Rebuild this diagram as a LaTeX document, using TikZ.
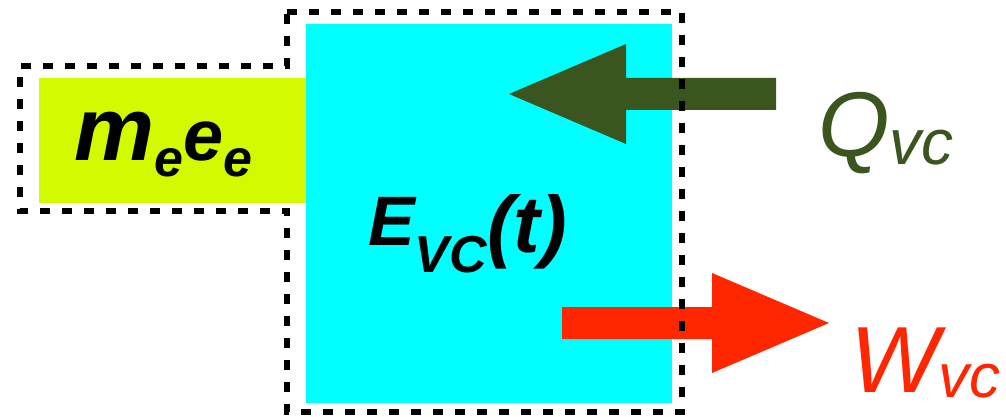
\documentclass[tikz,border=0pt]{standalone}
\usepackage{fontspec}
\setmainfont{Liberation Sans}
\definecolor{massyellow}{RGB}{212,250,0}
\definecolor{cvcyan}{RGB}{0,255,255}
\definecolor{heatgreen}{RGB}{58,86,30}
\definecolor{workred}{RGB}{255,38,0}
\begin{document}
\begin{tikzpicture}[x=1pt, y=-1pt,
    boundary/.style={line width=6pt, dash pattern=on 10pt off 12pt, line join=miter},
    lbl/.style={anchor=base west, inner sep=0pt}]
    \def\fs#1{\fontsize{#1}{#1}\selectfont}

    \useasboundingbox (0,0) rectangle (1006,417);

    % Mass entering: yellow block on the left
    \fill[massyellow] (39,78) rectangle (306,203);
    % Control volume: cyan block
    \fill[cvcyan] (306,24) rectangle (672,403);

    % Heat arrow Q, pointing into the control volume
    \coordinate (Q1) at (776,78);
    \coordinate (Q2) at (626,78);
    \coordinate (Q3) at (626,44);
    \coordinate (Q4) at (509,94);
    \coordinate (Q5) at (626,144);
    \coordinate (Q6) at (626,110);
    \coordinate (Q7) at (776,110);
    \fill[heatgreen] (Q1) -- (Q2) -- (Q3) -- (Q4) -- (Q5) -- (Q6) -- (Q7) -- cycle;

    % Work arrow W, pointing out of the control volume
    \coordinate (W1) at (562,307);
    \coordinate (W2) at (712,307);
    \coordinate (W3) at (712,273);
    \coordinate (W4) at (829,323);
    \coordinate (W5) at (712,373);
    \coordinate (W6) at (712,339);
    \coordinate (W7) at (562,339);
    \fill[workred] (W1) -- (W2) -- (W3) -- (W4) -- (W5) -- (W6) -- (W7) -- cycle;

    % Dashed boundary round both blocks
    \draw[boundary] (287,12) -- (682,12) -- (682,412) -- (287,412) -- (287,211)
        -- (20,211) -- (20,66) -- (287,66) -- cycle;

    % Labels
    \node[lbl] (mlabel) at (74,160) {\bfseries\itshape\fs{90}m\raisebox{-17pt}{\fs{52}e}\fs{72}e\raisebox{-17pt}{\fs{52}e}};
    \node[lbl] (elabel) at (368,245) {\bfseries\itshape\fs{70}E\raisebox{-27pt}{\fs{52}VC}\raisebox{-7pt}{\fs{80}(t)}};
    \node[lbl, text=heatgreen] (qlabel) at (818,157) {\itshape\fs{92}Q\raisebox{-8pt}{\fs{64}vc}};
    \node[lbl, text=workred] (wlabel) at (850,392) {\itshape\fs{94}W\raisebox{-5pt}{\fs{62}vc}};

\end{tikzpicture}
\end{document}
